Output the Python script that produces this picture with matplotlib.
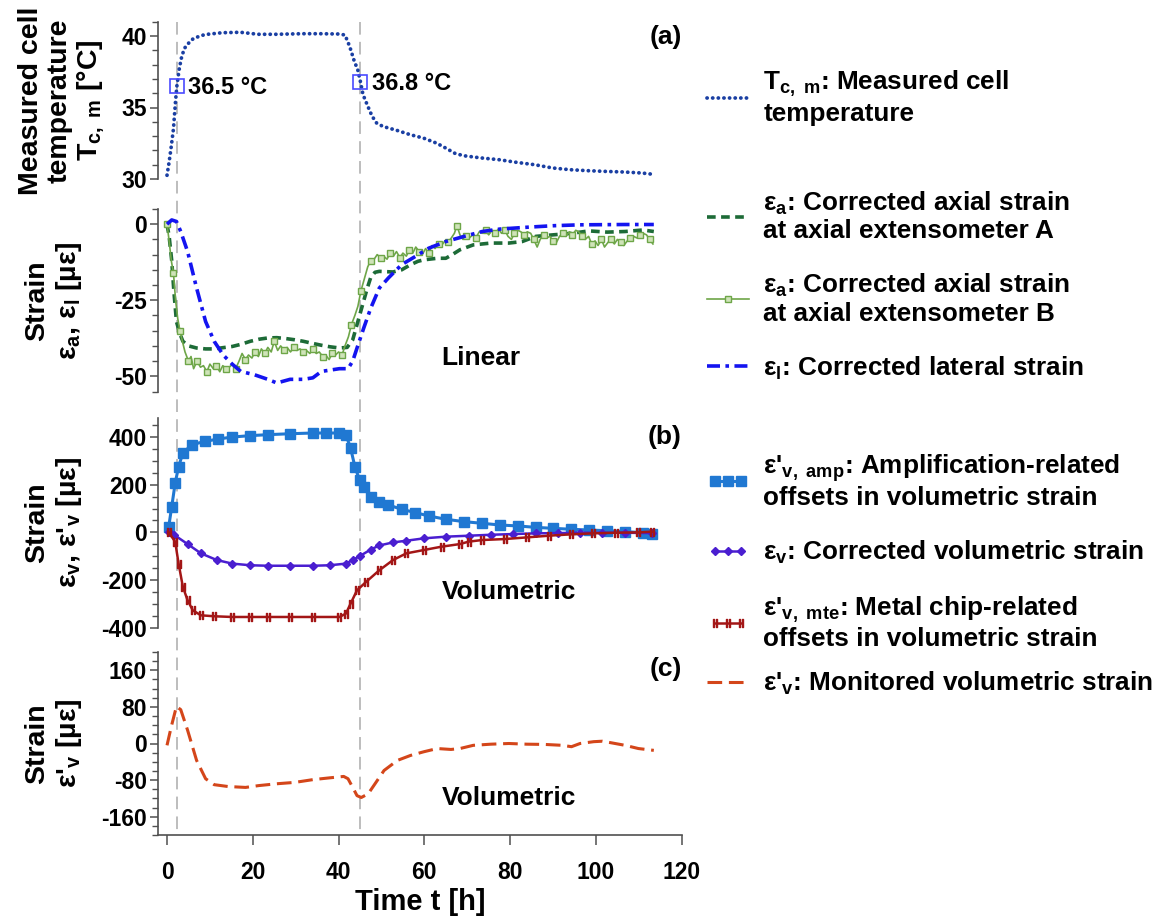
import matplotlib
matplotlib.use("Agg")
import matplotlib.pyplot as plt
from matplotlib.lines import Line2D
from matplotlib.ticker import MultipleLocator
from matplotlib.transforms import blended_transform_factory

plt.rcParams["font.family"] = ["Liberation Sans", "DejaVu Sans"]
plt.rcParams["font.weight"] = "bold"
plt.rcParams["axes.labelweight"] = "bold"
plt.rcParams["axes.unicode_minus"] = False
plt.rcParams["mathtext.fontset"] = "custom"
plt.rcParams["mathtext.rm"] = "Liberation Sans:bold"
plt.rcParams["mathtext.it"] = "Liberation Sans:bold"
plt.rcParams["mathtext.bf"] = "Liberation Sans:bold"
plt.rcParams["mathtext.default"] = "rm"

# ---- data ----
event_times = [2.3, 45.1]

temp_t = [0, 0.5, 1.0, 1.5, 2.0, 2.3, 2.8, 3.3, 4.0, 4.7, 6.2, 8.8, 12.9, 17.1, 19.2, 21.2,
          25.4, 31.6, 35.8, 40.0, 41.5, 42.6, 43.6, 44.5, 45.1, 45.7, 46.8, 47.8, 48.9,
          50.4, 53.6, 56.7, 59.8, 62.9, 65.0, 67.1, 69.1, 73.3, 77.4, 81.6, 85.7, 89.9,
          94.0, 98.2, 102.4, 106.5, 110.7, 113.3]
temp_c = [30.26, 31.2, 32.3, 33.5, 35.5, 36.5, 37.6, 38.4, 39.1, 39.4, 39.84, 40.1, 40.23,
          40.26, 40.19, 40.12, 40.12, 40.16, 40.16, 40.14, 40.07, 39.26, 38.3, 37.6, 36.8,
          35.9, 35.1, 34.4, 33.9, 33.67, 33.4, 33.1, 32.86, 32.5, 32.16, 31.8, 31.63, 31.47,
          31.35, 31.16, 31.0, 30.77, 30.65, 30.58, 30.53, 30.49, 30.42, 30.33]
temp_marks_t = [2.3, 45.1]
temp_marks_c = [36.5, 36.8]
temp_marks_txt = ["36.5 °C", "36.8 °C"]

axial_a_t = [0, 0.5, 1.1, 1.6, 2.2, 3.0, 3.7, 5.0, 6.9, 9.0, 11.0, 13.0, 15.2, 17.2, 19.4,
             21.5, 23.5, 25.6, 27.7, 29.8, 31.8, 34.0, 36.0, 38.0, 40.2, 42.0, 43.3, 44.3,
             45.1, 45.9, 46.7, 47.5, 48.5, 49.5, 51.0, 52.7, 54.7, 56.8, 58.5, 59.9, 63.0,
             65.0, 66.5, 68.3, 71.4, 75.5, 79.7, 82.8, 84.5, 86.0, 90.0, 94.3, 98.4, 102.6,
             106.8, 111.0, 113.5]
axial_a = [0, -4, -12, -22, -32, -36, -38.5, -40, -40.7, -41, -41, -40.6, -40.2, -39.5,
           -38.5, -37.8, -37.4, -37.3, -37.6, -38, -38.5, -39.2, -39.8, -40.3, -40.7, -40.5,
           -38, -33, -29, -25, -21, -17.5, -15.8, -15.5, -15.6, -15.7, -15, -13.3, -12.2,
           -11.7, -11.2, -11.2, -10, -8.4, -6.8, -6.2, -6.2, -5.7, -4.8, -4, -3.5, -3, -2.2,
           -2.6, -2.4, -1.9, -2.4]

axial_b_t = [0, 0.5, 1.0, 1.5, 2.0, 2.5, 3.0, 3.5, 4.2, 5.0, 5.6, 6.2, 7.0, 7.8, 8.5, 9.3,
             10.0, 10.8, 11.5, 12.3, 13.0, 13.8, 14.5, 15.3, 16.0, 16.8, 17.5, 18.3, 19.0,
             19.8, 20.5, 21.3, 22.0, 22.8, 23.5, 24.3, 25.0, 25.8, 26.5, 27.3, 28.0, 28.8,
             29.5, 30.3, 31.0, 31.8, 32.5, 33.3, 34.0, 34.8, 35.5, 36.3, 37.0, 37.8, 38.5,
             39.3, 40.0, 40.8, 41.5, 42.3, 43.0, 43.8, 44.5, 45.2, 46.0, 46.8, 47.5, 48.3,
             49.0, 49.8, 50.5, 51.3, 52.0, 52.8, 53.5, 54.3, 55.0, 55.8, 56.5, 57.3, 58.0,
             58.8, 59.5, 60.3, 61.0, 61.8, 62.5, 63.3, 64.0, 64.8, 65.5, 66.3, 67.0, 67.6,
             68.3, 69.0, 69.8, 70.5, 71.3, 72.0, 72.8, 73.5, 74.3, 75.0, 75.8, 76.5, 77.3,
             78.0, 78.8, 79.5, 80.3, 81.0, 81.8, 82.5, 83.3, 84.0, 84.8, 85.5, 86.3, 87.0,
             87.8, 88.5, 89.3, 90.0, 90.8, 91.5, 92.3, 93.0, 93.8, 94.5, 95.3, 96.0, 96.8,
             97.5, 98.3, 99.0, 99.8, 100.5, 101.3, 102.0, 102.8, 103.5, 104.3, 105.0, 105.8,
             106.5, 107.3, 108.0, 108.8, 109.5, 110.3, 111.0, 111.8, 112.5, 113.3]
axial_b = [0, -5.5, -12, -16, -25, -31, -35, -38, -42, -45, -43.5, -47.5, -45, -47, -46.5,
           -48.5, -46, -47.5, -46.5, -48.5, -46.5, -47.5, -47, -46, -47.5, -45, -42.5, -44.5,
           -43, -44, -42, -43.5, -41, -42.5, -40.5, -42, -38.5, -41.5, -40, -41.5, -40.5,
           -42, -40.5, -41.5, -41, -42, -41.5, -42.5, -41, -42.5, -42, -43.5, -43, -44.5,
           -42.5, -43, -42, -43, -40, -37, -33, -30, -27, -22, -18, -14, -12, -11.5, -10,
           -11, -10.5, -11.5, -9.5, -10.5, -9, -11, -9.5, -10.5, -8.5, -9.5, -7.5, -9, -10,
           -8, -9.5, -7, -8, -6.5, -7, -5.5, -6, -4.5, -3, -0.5, -3.5, -5, -4, -4.5, -3.5,
           -4.5, -2.5, -3, -2, -3.5, -2, -3, -1.5, -3, -2, -4, -5, -3, -2, -2.5, -3.5, -2.5,
           -3, -5, -7.5, -5, -3.5, -4.5, -4, -5.5, -6, -4, -3, -4, -2.5, -3.5, -2, -2.5, -4,
           -5, -4, -6.5, -5.5, -7, -5, -7.5, -6, -5, -6.5, -5, -6, -7, -5.5, -4.5, -4, -4.5,
           -3.5, -3, -3.5, -5, -6.5]

lateral_t = [0, 1.1, 2.2, 3.2, 4.8, 6.9, 9.0, 11.0, 13.1, 15.2, 17.2, 20.4, 23.5, 25.6,
             28.7, 31.8, 34.0, 36.0, 40.2, 42.2, 43.3, 44.3, 45.9, 47.5, 49.5, 51.6, 54.7,
             57.9, 61.0, 65.0, 69.3, 73.5, 77.6, 83.9, 90.0, 96.3, 106.8, 113.5]
lateral = [0, 1.4, 0.9, -2.4, -9, -21, -32, -38.5, -43, -46, -48.4, -49.5, -51, -52.2, -51,
           -51, -50.5, -48.4, -47.5, -47.5, -45, -40.7, -34, -27.6, -21, -17.7, -13.3, -10.6,
           -7.9, -5.7, -4, -2.4, -1.6, -1, -0.5, -0.2, -0.1, -0.1]

amp_t = [0.4, 1.1, 1.9, 2.7, 3.7, 5.8, 8.9, 12.0, 15.2, 19.4, 23.5, 28.7, 34.0, 37.0, 40.2,
         41.7, 42.8, 43.8, 44.9, 45.9, 47.5, 49.5, 51.6, 54.7, 57.9, 61.0, 65.0, 69.3, 73.5,
         77.6, 81.8, 86.0, 90.0, 94.3, 98.4, 102.6, 106.8, 111.0, 113.0]
amp = [24, 108, 206, 276, 333, 368, 382, 392, 400, 406, 410, 414, 417, 417, 417, 410, 354,
       276, 220, 192, 150, 129, 115, 97, 83, 69, 55, 45, 38, 31, 27, 21, 17, 13, 10, 7, 3,
       -1, -7]

vol_t = [0.4, 1.7, 4.8, 7.9, 11.6, 15.2, 19.4, 23.5, 28.7, 34.0, 38.0, 41.7, 43.3, 44.9,
         47.5, 49.5, 52.7, 55.8, 59.9, 65.0, 70.3, 75.5, 80.7, 86.0, 91.2, 96.3, 101.5,
         106.8, 113.0]
vol = [0, -11, -49, -88, -116, -131, -138, -140, -140, -140, -138, -131, -116, -100, -72,
       -55, -42, -35, -25, -18, -14, -10, -7, -4, -3, -1.5, -1.5, -1.5, -3]

mte_t = [0.4, 1.9, 2.7, 3.7, 4.8, 6.0, 7.9, 11.0, 15.2, 19.4, 23.5, 28.7, 34.0, 40.2, 41.7,
         42.8, 44.3, 46.4, 49.5, 52.7, 55.8, 59.9, 64.0, 68.3, 70.3, 73.5, 78.7, 83.9, 89.0,
         94.3, 99.4, 104.6, 109.8, 113.0]
mte = [0, -39, -131, -229, -285, -327, -348, -352, -355, -355, -355, -355, -355, -355, -341,
       -299, -243, -208, -159, -116, -88, -74, -60, -49, -39, -32, -28, -21, -14, -8, -4,
       -1.5, 0, 3]

mon_t = [0, 1.0, 2.2, 3.2, 4.8, 6.9, 9.0, 11.0, 14.2, 18.3, 21.4, 25.6, 29.8, 34.0, 38.0,
         41.2, 42.2, 43.3, 44.3, 45.3, 46.9, 48.5, 50.6, 53.7, 56.8, 59.9, 63.0, 66.2, 68.3,
         71.4, 75.5, 79.7, 83.9, 88.0, 92.2, 94.3, 96.3, 99.5, 101.5, 103.6, 106.8, 109.9,
         113.5]
mon = [-4, 37, 81, 74, 29, -37, -77, -90, -94, -96, -92, -88, -85, -79, -75, -72, -77, -96,
       -114, -118, -110, -88, -59, -37, -26, -18, -11, -13, -11, -4, -1.5, 0, -1.5, -2, -4,
       -7, 0, 4, 5, 1.5, -4, -11, -15]

# ---- figure ----
W, H = 1163, 916
fig = plt.figure(figsize=(W / 100, H / 100), dpi=100)


def rect(top_px, bottom_px):
    x0 = 158 / W
    w = (681.7 - 158) / W
    return [x0, 1 - bottom_px / H, w, (bottom_px - top_px) / H]


ax_t = fig.add_axes(rect(21.7, 179))
ax_l = fig.add_axes(rect(209, 391.5))
ax_v = fig.add_axes(rect(418, 627.7))
ax_m = fig.add_axes(rect(652, 835))
axes = [ax_t, ax_l, ax_v, ax_m]

spine_col = "#505050"
for ax in axes:
    ax.set_xlim(-2.1, 120)
    for s in ("top", "right"):
        ax.spines[s].set_visible(False)
    ax.spines["left"].set_color(spine_col)
    ax.spines["left"].set_linewidth(1.2)
    ax.tick_params(axis="y", which="major", direction="out", length=6, width=1.1,
                   color=spine_col, labelsize=16.5, pad=2)
    ax.tick_params(axis="y", which="minor", direction="out", length=4, width=1.0,
                   color=spine_col)
    ax.patch.set_visible(False)

for ax in axes[:-1]:
    ax.spines["bottom"].set_visible(False)
    ax.tick_params(axis="x", which="both", bottom=False, labelbottom=False)

ax_m.spines["bottom"].set_color(spine_col)
ax_m.spines["bottom"].set_linewidth(1.2)
ax_m.set_xticks(range(0, 121, 20))
ax_m.tick_params(axis="x", direction="out", length=7.5, width=1.1, color=spine_col,
                 labelsize=16.5, pad=11)

# (a) temperature
ax_t.plot(temp_t, temp_c, color="#1a3fa3", lw=2.7, linestyle=(0, (0.05, 1.45)),
          dash_capstyle="round", label="T$_{c,\\ m}$: Measured cell\ntemperature")
ax_t.plot(temp_marks_t, temp_marks_c, "s", ms=10, mfc="none", mec="#4a4aff", mew=1.2)
for t, c, s in zip(temp_marks_t, temp_marks_c, temp_marks_txt):
    ax_t.annotate(s, (t, c), xytext=(8, -1), textcoords="offset points", va="center",
                  ha="left", fontsize=17)
ax_t.set_ylim(30, 41)
ax_t.set_yticks([30, 35, 40])
ax_t.yaxis.set_minor_locator(MultipleLocator(1))
ax_t.text(1.0, 0.90, "(a)", transform=ax_t.transAxes, ha="right", va="center", fontsize=19)

# linear strains
ax_l.plot(axial_a_t, axial_a, color="#1d6b37", lw=2.6, dashes=(2.4, 1.5),
          label="ε$_{a}$: Corrected axial strain\nat axial extensometer A")
ax_l.plot(axial_b_t, axial_b, color="#6ea648", lw=1.2, marker="s", ms=4.5, markevery=3,
          mfc="#cfe3b8", mec="#6ea648", mew=1.0,
          label="ε$_{a}$: Corrected axial strain\nat axial extensometer B")
ax_l.plot(lateral_t, lateral, color="#1414f0", lw=2.6, dashes=(3.6, 1.5, 1.0, 1.5),
          label="ε$_{l}$: Corrected lateral strain")
ax_l.set_ylim(-55, 5)
ax_l.set_yticks([-50, -25, 0])
ax_l.yaxis.set_minor_locator(MultipleLocator(5))
ax_l.text(73.1, -44, "Linear", ha="center", va="center", fontsize=19)

# (b) volumetric strains
ax_v.plot(amp_t, amp, color="#2078d2", lw=2.2, marker="s", ms=6.5,
          label="ε'$_{v,\\ amp}$: Amplification-related\noffsets in volumetric strain")
ax_v.plot(vol_t, vol, color="#4a1ed0", lw=1.8, marker="D", ms=4.5,
          label="ε$_{v}$: Corrected volumetric strain")
ax_v.plot(mte_t, mte, color="#a31616", lw=1.8, marker="$\\Vert$", ms=6,
          label="ε'$_{v,\\ mte}$: Metal chip-related\noffsets in volumetric strain")
ax_v.set_ylim(-400, 480)
ax_v.set_yticks([-400, -200, 0, 200, 400])
ax_v.yaxis.set_minor_locator(MultipleLocator(50))
ax_v.text(1.0, 0.909, "(b)", transform=ax_v.transAxes, ha="right", va="center", fontsize=19)
ax_v.text(79.8, -249, "Volumetric", ha="center", va="center", fontsize=19)

# (c) monitored volumetric strain
ax_m.plot(mon_t, mon, color="#d4461a", lw=2.2, dashes=(4.8, 2.2),
          label="ε'$_{v}$: Monitored volumetric strain")
ax_m.set_ylim(-200, 200)
ax_m.set_yticks([-160, -80, 0, 80, 160])
ax_m.yaxis.set_minor_locator(MultipleLocator(20))
ax_m.text(1.0, 0.907, "(c)", transform=ax_m.transAxes, ha="right", va="center", fontsize=19)
ax_m.text(79.8, -119, "Volumetric", ha="center", va="center", fontsize=19)
ax_m.set_xlabel("Time t [h]", fontsize=21, labelpad=3)

# y labels
ax_t.set_ylabel("Measured cell\ntemperature\nT$_{c,\\ m}$ [°C]", fontsize=20.5, linespacing=1.1)
ax_t.yaxis.set_label_coords(-0.10, 0.5)
ax_l.set_ylabel("Strain\nε$_{a}$, ε$_{l}$ [µε]", fontsize=20.5, linespacing=1.15)
ax_v.set_ylabel("Strain\nε$_{v}$, ε'$_{v}$ [µε]", fontsize=20.5, linespacing=1.15)
ax_m.set_ylabel("Strain\nε'$_{v}$ [µε]", fontsize=20.5, linespacing=1.15)
for ax in (ax_l, ax_v, ax_m):
    ax.yaxis.set_label_coords(-0.142, 0.5)

# event lines across all panels
trans = blended_transform_factory(ax_m.transData, fig.transFigure)
for t in event_times:
    fig.add_artist(Line2D([t, t], [1 - 22 / H, 1 - 832 / H], transform=trans,
                          color="#b8b8b8", lw=1.3, dashes=(7, 4), zorder=0))

# legends on the right
leg_kw = dict(loc="upper left", frameon=False, borderpad=0, borderaxespad=0,
              handlelength=1.6, handletextpad=0.55, labelspacing=1.1,
              prop={"size": 18.8, "weight": "bold"})
legs = [
    fig.legend(handles=ax_t.get_lines()[:1], bbox_to_anchor=(707 / W, 1 - 69 / H), **leg_kw),
    fig.legend(handles=ax_l.get_lines(), bbox_to_anchor=(707 / W, 1 - 190 / H),
               numpoints=1, **leg_kw),
    fig.legend(handles=ax_v.get_lines(), bbox_to_anchor=(707 / W, 1 - 452 / H),
               numpoints=3, **leg_kw),
    fig.legend(handles=ax_m.get_lines(), bbox_to_anchor=(707 / W, 1 - 670 / H), **leg_kw),
]
for leg in legs:
    for txt in leg.get_texts():
        txt.set_linespacing(1.12)

fig.savefig("out.png", dpi=100)
